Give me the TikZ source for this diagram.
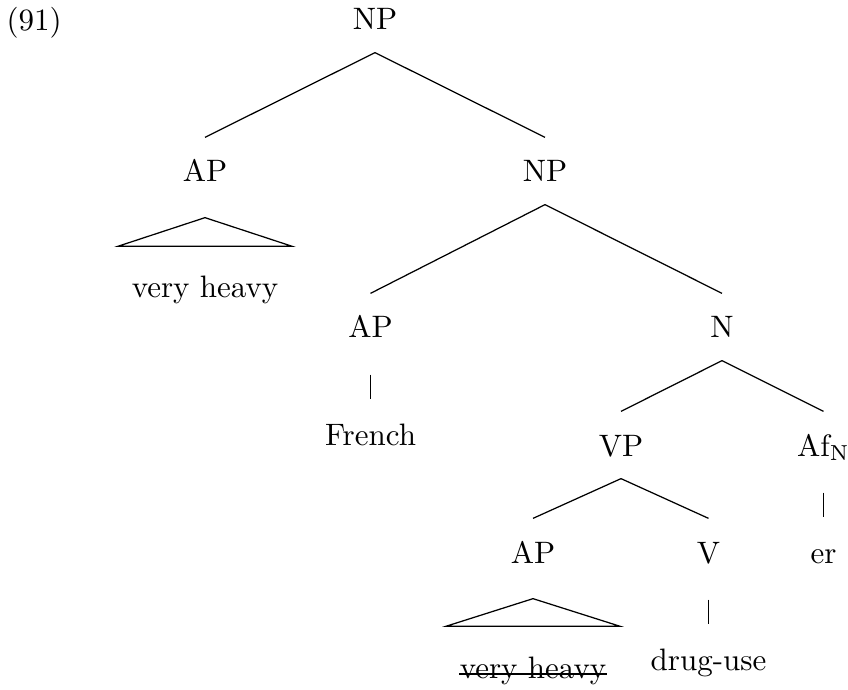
\documentclass[tikz,border=0pt]{standalone}
\usepackage{tikz}

\begin{document}
\begin{tikzpicture}[
    x=0.3226pt, y=-0.3226pt,
    cat/.style={anchor=base, inner sep=0pt, text height=14.2pt, text depth=7.1pt},
    leaf/.style={anchor=base, inner sep=0pt, text height=14.5pt},
    roofleaf/.style={anchor=base, inner ysep=0pt, inner xsep=4.2pt, text height=16.5pt},
    branch/.style={line width=0.4pt},
    unary/.style={line width=0.4pt, shorten <=4.5pt},
    roof/.style={line width=0.4pt},
    strike/.style={line width=0.4pt, shorten <=4.2pt, shorten >=4.2pt},
]
\useasboundingbox (0,0) rectangle (848,690);

\node[anchor=base west, inner sep=0pt] (exnum) at (6,31) {(91)};

% categories
\node[cat] (np0) at (375,30) {NP};
\node[cat] (ap1) at (205,182) {AP};
\node[cat] (np1) at (545,182) {NP};
\node[cat] (ap2) at (370.5,338) {AP};
\node[cat] (n) at (722,338) {N};
\node[cat] (vp) at (621,456) {VP};
\node[cat] (afn) at (823.5,456) {Af$_{\mathrm{N}}$};
\node[cat] (ap3) at (533,563) {AP};
\node[cat] (v) at (708.5,563) {V};

% words
\node[roofleaf] (vh1) at (205,298) {very heavy};
\node[leaf] (french) at (370.5,445) {French};
\node[leaf] (er) at (823.5,563) {er};
\node[roofleaf] (vh2) at (533,678) {very heavy};
\node[leaf] (druguse) at (708.5,670) {drug-use};

\draw[branch] (np0.south) -- (ap1.north);
\draw[branch] (np0.south) -- (np1.north);
\draw[branch] (np1.south) -- (ap2.north);
\draw[branch] (np1.south) -- (n.north);
\draw[branch] (n.south) -- (vp.north);
\draw[branch] (n.south) -- (afn.north);
\draw[branch] (vp.south) -- (ap3.north);
\draw[branch] (vp.south) -- (v.north);

\draw[unary] (ap2.south) -- (french.north);
\draw[unary] (afn.south) -- (er.north);
\draw[unary] (v.south) -- (druguse.north);

\draw[roof] ([yshift=-4.2pt]ap1.south) -- (vh1.north west) -- (vh1.north east) -- cycle;
\draw[roof] ([yshift=-4.2pt]ap3.south) -- (vh2.north west) -- (vh2.north east) -- cycle;
\draw[strike] ([yshift=1.3pt]vh2.base west) -- ([yshift=1.3pt]vh2.base east);

\end{tikzpicture}
\end{document}
